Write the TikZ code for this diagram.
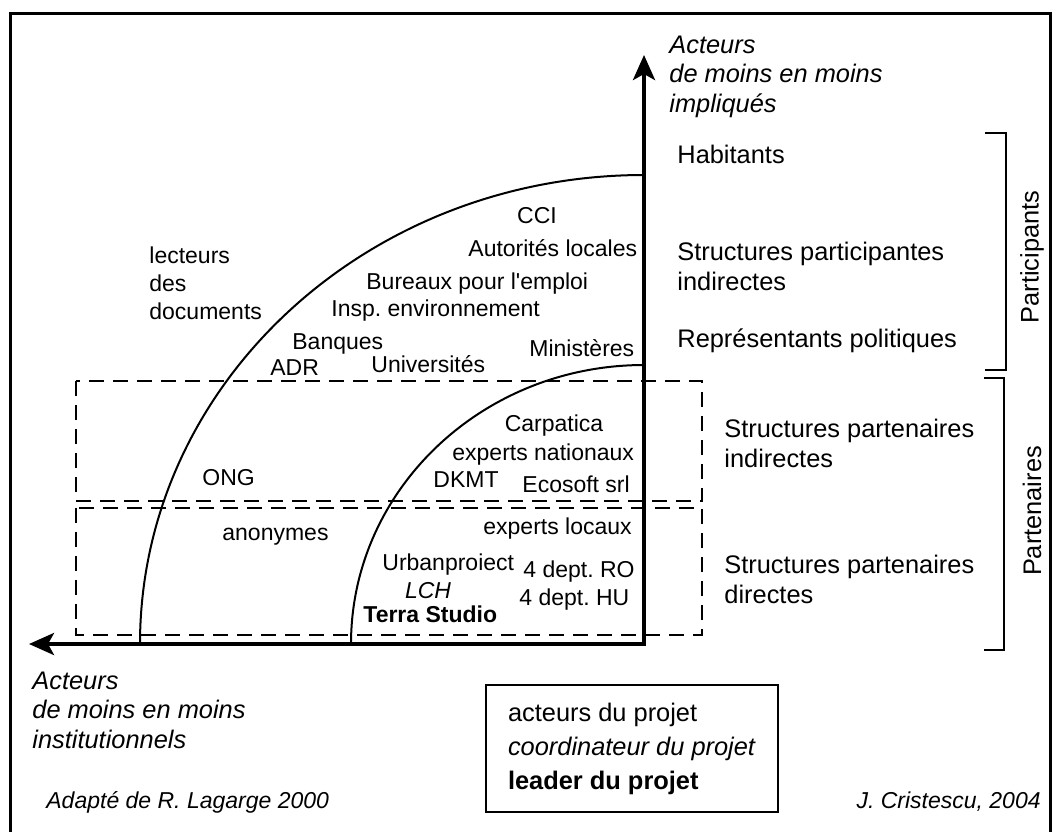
\documentclass[tikz,border=0pt]{standalone}
\usepackage{fontspec}
\setmainfont{Liberation Sans}
\usetikzlibrary{arrows.meta}
\frenchspacing
\tikzset{
    lbl/.style={inner sep=0pt, anchor=base west, align=left,
                font=\fontsize{11.5}{14}\selectfont},
    side/.style={inner sep=0pt, anchor=base west, align=left,
                 font=\fontsize{12.7}{15}\selectfont},
    axlbl/.style={inner sep=0pt, anchor=base west, align=left,
                  font=\fontsize{12.7}{14.75}\selectfont\itshape},
    zone/.style={draw, line width=1pt, dash pattern=on 7.5pt off 4.5pt},
    band/.style={draw, line width=1pt},
}

\begin{document}
\begin{tikzpicture}[
    x=0.5pt, y=-0.5pt,
    axarr/.style={{Stealth[length=12.5pt,width=11pt,inset=3pt]}-{Stealth[length=12.5pt,width=11pt,inset=3pt]},
                  line width=2pt, line join=miter},
    arcline/.style={line width=1pt}
]
    \useasboundingbox (0,0) rectangle (1052,831);
    \draw[line width=1.5pt] (10,13) rectangle (1050,850);

    % partner zones
    \draw[zone] (76,381) rectangle (702,501);
    \draw[zone] (76,508) rectangle (702,635);

    % circles of actors and axes
    \coordinate (O) at (644,644);
    \coordinate (ytip) at (644,55);
    \coordinate (xtip) at (29,644);
    \coordinate (outfoot) at (140,644);
    \coordinate (infoot) at (351,644);
    \draw[arcline] (outfoot) arc[start angle=180, end angle=270, x radius=504, y radius=469];
    \draw[arcline] (infoot) arc[start angle=180, end angle=270, x radius=293, y radius=279];
    \draw[axarr] (ytip) -- (O) -- (xtip);

    % multi-line labels sit on their last baseline
    \node[axlbl] (implic) at (669,112) {Acteurs\\de moins en moins\\impliqués};
    \node[axlbl] (instit) at (32,748) {Acteurs\\de moins en moins\\institutionnels};

    % outer ring
    \node[lbl] (lect) at (149,319) {lecteurs\\des\\documents};
    \node[lbl, anchor=base] (cci) at (537,223) {CCI};
    \node[lbl] (autor) at (468,256) {Autorités locales};
    \node[lbl] (bureaux) at (366,289) {Bureaux pour l\textquotesingle emploi};
    \node[lbl] (insp) at (331,316) {Insp. environnement};
    \node[lbl] (banq) at (292,349) {Banques};
    \node[lbl] (adr) at (270,375) {ADR};
    \node[lbl] (univ) at (371,372) {Universités};
    \node[lbl] (minist) at (529,356) {Ministères};
    \node[lbl] (ong) at (202,485) {ONG};
    \node[lbl] (anon) at (222,540) {anonymes};

    % inner ring
    \node[lbl, anchor=base] (carp) at (554,431) {Carpatica};
    \node[lbl] (expnat) at (452,460) {experts nationaux};
    \node[lbl] (dkmt) at (433,487) {DKMT};
    \node[lbl] (ecos) at (522,492) {Ecosoft srl};
    \node[lbl] (exploc) at (483,534) {experts locaux};
    \node[lbl] (urban) at (382,570) {Urbanproiect};
    \node[lbl] (ro) at (523,577) {4 dept. RO};
    \node[lbl] (hu) at (519,605) {4 dept. HU};
    \node[lbl, anchor=base, font=\fontsize{11.5}{14}\selectfont\itshape] (lch) at (428,598) {LCH};
    \node[lbl, font=\fontsize{11.5}{14}\selectfont\bfseries] (terra) at (363,622) {Terra Studio};

    % categories
    \node[side] (hab) at (677,163) {Habitants};
    \node[side] (spi) at (677,290) {Structures participantes\\indirectes};
    \node[side] (repr) at (677,347) {Représentants politiques};
    \node[side] (spai) at (724,467) {Structures partenaires\\indirectes};
    \node[side] (spad) at (724,603) {Structures partenaires\\directes};

    \draw[band] (985,133) -- (1006,133) -- (1006,370) -- (985,370);
    \draw[band] (984,378) -- (1004,378) -- (1004,650) -- (984,650);
    \node[side, anchor=center, rotate=90] (partic) at (1032,257) {Participants};
    \node[side, anchor=center, rotate=90] (parten) at (1032,511) {Partenaires};

    % legend
    \node[draw, line width=1pt, inner sep=0pt, minimum width=146pt, minimum height=63.5pt,
          align=left, font=\fontsize{12.7}{17}\selectfont] (legend) at (632,748.5)
        {acteurs du projet\\\textit{coordinateur du projet}\\\textbf{leader du projet}};

    \node[lbl, font=\fontsize{11.5}{14}\selectfont\itshape] (src) at (46,808) {Adapté de R. Lagarge 2000};
    \node[lbl, anchor=base east, font=\fontsize{11.5}{14}\selectfont\itshape] (auth) at (1041,808)
        {J. Cristescu, 2004};
\end{tikzpicture}
\end{document}
